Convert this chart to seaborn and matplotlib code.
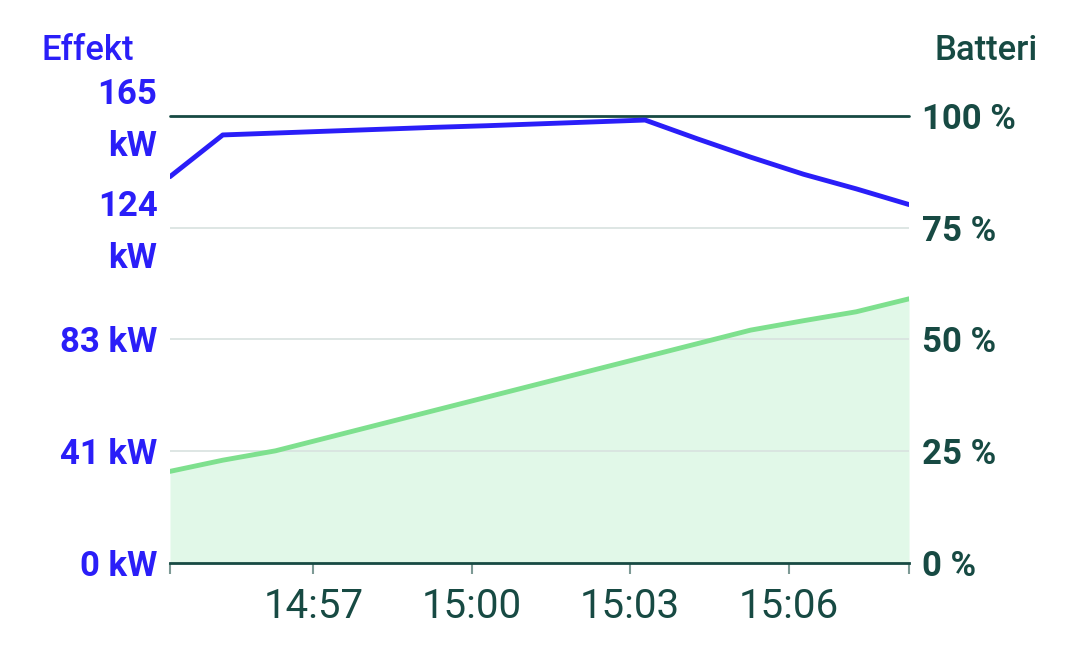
import pandas as pd
import matplotlib.pyplot as plt
import matplotlib.dates as mdates
import matplotlib.transforms as mtransforms
import seaborn as sns

# samples, one per minute
start_time = "2024-01-01 14:54:17"
n_points = 15
power_kw = [142.6, 158.0, 158.7, 159.4, 160.1, 160.8, 161.4, 162.1, 162.8, 163.5,
            156.5, 149.8, 143.5, 138.1, 132.3]
battery_pct = [20.5, 23.0, 25.1, 28.1, 31.1, 34.1, 37.1, 40.1, 43.1, 46.1,
               49.1, 52.1, 54.2, 56.2, 59.1]

power_ticks = [0, 41.25, 82.5, 123.75, 165]
power_labels = ["0 kW", "41 kW", "83 kW", "124\nkW", "165\nkW"]
battery_ticks = [0, 25, 50, 75, 100]
battery_labels = ["0 %", "25 %", "50 %", "75 %", "100 %"]
time_ticks = ["2024-01-01 14:57", "2024-01-01 15:00", "2024-01-01 15:03", "2024-01-01 15:06"]

BLUE = "#2a1ef8"
GREEN = "#7ee08e"
FILL = "#e1f8e8"
TEAL = "#174a43"
GRID = "#d8e2df"

df = pd.DataFrame({
    "time": pd.date_range(start_time, periods=n_points, freq="1min"),
    "power": power_kw,
    "battery": battery_pct,
})

sns.set_theme(style="white")
plt.rcParams["font.family"] = ["Roboto", "DejaVu Sans"]

fig = plt.figure(figsize=(10.8, 6.53), dpi=100)
ax = fig.add_axes([0.1574, 0.1378, 0.6843, 0.6846])
ax2 = ax.twinx()

# battery on the right axis, behind the power line
ax2.fill_between(df["time"], 0, df["battery"], color=FILL, zorder=1, linewidth=0)
for y in [25, 50, 75]:
    ax2.axhline(y, color=GRID, lw=1.2, zorder=2)
sns.lineplot(data=df, x="time", y="battery", ax=ax2, color=GREEN, lw=3.5, zorder=3)
ax2.axhline(100, color=TEAL, lw=2, zorder=4, clip_on=False)
ax2.set_ylim(0, 100)

sns.lineplot(data=df, x="time", y="power", ax=ax, color=BLUE, lw=3.5, zorder=5)
ax.set_ylim(0, 165)
ax.set_zorder(ax2.get_zorder() + 1)
ax.patch.set_visible(False)

xmin, xmax = df["time"].iloc[0], df["time"].iloc[-1]
ax.set_xlim(xmin, xmax)

for a in (ax, ax2):
    for s in a.spines.values():
        s.set_visible(False)
    a.set_xlabel("")
    a.set_ylabel("")
ax.spines["bottom"].set_visible(True)
ax.spines["bottom"].set_color(TEAL)
ax.spines["bottom"].set_linewidth(2)

ax.set_yticks(power_ticks)
ax.set_yticklabels(power_labels)
ax.tick_params(axis="y", length=0, pad=9, labelsize=25, labelcolor=BLUE)
shift = mtransforms.ScaledTranslation(0, -4.5 / 100, fig.dpi_scale_trans)
for lab in ax.get_yticklabels():
    lab.set_fontweight("bold")
    if "\n" in lab.get_text():
        lab.set_linespacing(1.72)
        lab.set_verticalalignment("center")
        lab.set_transform(lab.get_transform() + shift)

ax2.set_yticks(battery_ticks)
ax2.set_yticklabels(battery_labels)
ax2.tick_params(axis="y", length=0, pad=9, labelsize=25, labelcolor=TEAL)
for lab in ax2.get_yticklabels():
    lab.set_fontweight("bold")

ax.set_xticks(pd.to_datetime(time_ticks))
ax.set_xticks([mdates.date2num(xmin), mdates.date2num(xmax)], minor=True)
ax.xaxis.set_major_formatter(mdates.DateFormatter("%H:%M"))
ax.tick_params(axis="x", which="both", bottom=True, direction="out", length=8,
               width=1.5, color="#7d9a95", labelsize=29, labelcolor=TEAL, pad=9)
ax.tick_params(axis="x", which="minor", labelbottom=False)

fig.text(0.0385, 0.922, "Effekt", color=BLUE, fontsize=25, fontweight="medium",
         ha="left", va="center")
fig.text(0.961, 0.922, "Batteri", color=TEAL, fontsize=25, fontweight="medium",
         ha="right", va="center")

fig.savefig("out.png", dpi=100)
